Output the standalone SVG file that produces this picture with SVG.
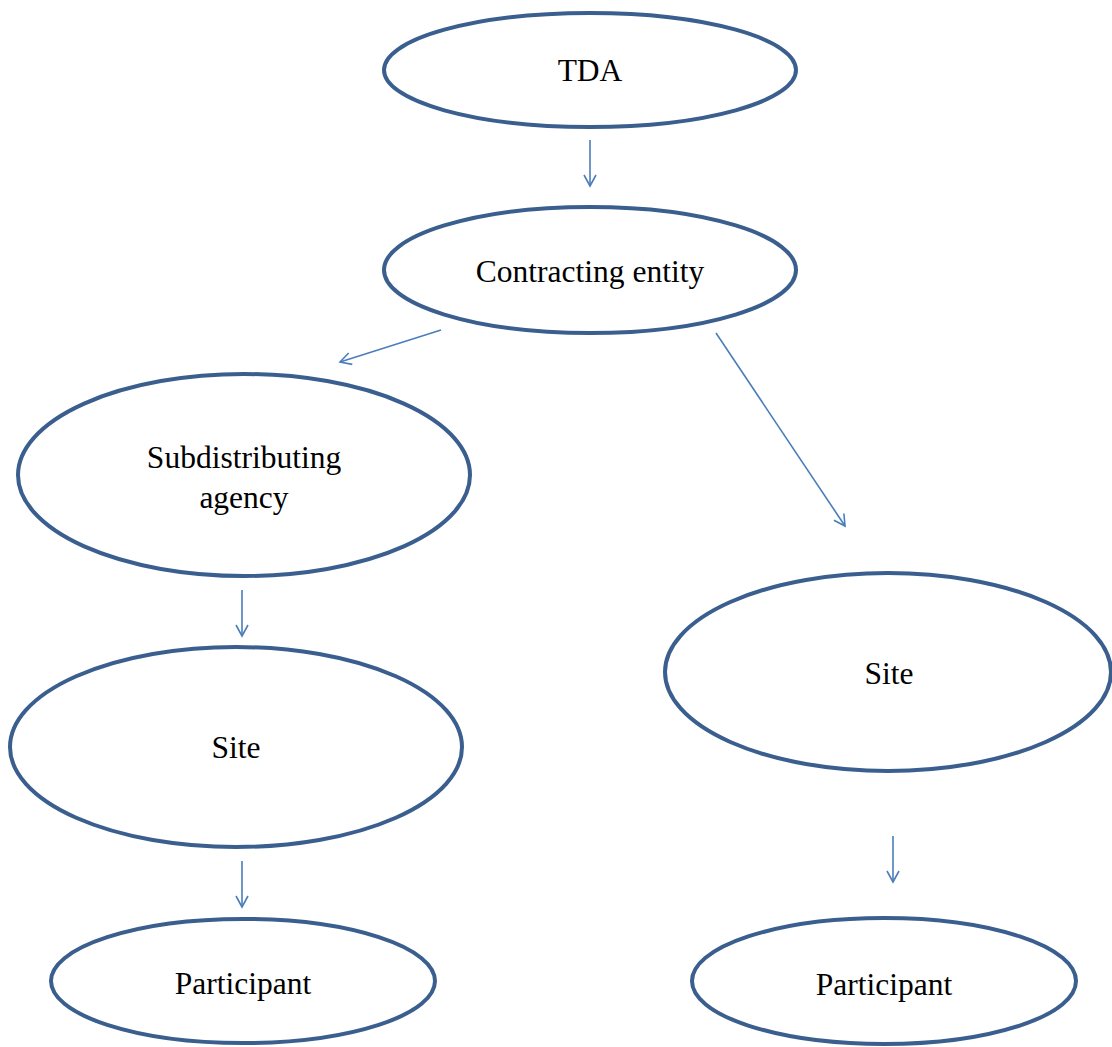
<svg xmlns="http://www.w3.org/2000/svg" width="1112" height="1047" viewBox="0 0 1112 1047">
<style>
.node ellipse{fill:#fff;stroke:#3a5f8f;stroke-width:4}
.node text{font-family:"Liberation Serif","DejaVu Serif",serif;font-size:31.5px;fill:#000;text-anchor:middle}
#connectors line{stroke:#4a7ebb;stroke-width:1.6;fill:none;marker-end:url(#arr)}
</style>
<defs>
<marker id="arr" markerUnits="userSpaceOnUse" markerWidth="14" markerHeight="14" viewBox="0 0 14 14" refX="12" refY="7" orient="auto">
<path d="M1,1 L12,7 L1,13" fill="none" stroke="#4a7ebb" stroke-width="1.6"/>
</marker>
</defs>
<rect width="1112" height="1047" fill="#fff"/>
<g id="connectors">
<line x1="590" y1="140" x2="590" y2="186"/>
<line x1="441" y1="330" x2="340" y2="362"/>
<line x1="716" y1="333" x2="845" y2="526"/>
<line x1="242" y1="590" x2="242" y2="636"/>
<line x1="242" y1="861" x2="242" y2="907"/>
<line x1="893" y1="836" x2="893" y2="882"/>
</g>
<g id="tda" class="node"><ellipse cx="590" cy="70" rx="206" ry="57"/><text x="590" y="81">TDA</text></g>
<g id="contracting" class="node"><ellipse cx="590" cy="270" rx="206" ry="63"/><text x="590" y="282">Contracting entity</text></g>
<g id="subdistributing" class="node"><ellipse cx="244" cy="475" rx="226" ry="101"/><text x="244" y="468">Subdistributing</text><text x="244" y="508">agency</text></g>
<g id="site-left" class="node"><ellipse cx="236" cy="747" rx="226" ry="100"/><text x="236" y="758">Site</text></g>
<g id="site-right" class="node"><ellipse cx="888" cy="672" rx="223" ry="99"/><text x="889" y="684">Site</text></g>
<g id="participant-left" class="node"><ellipse cx="243" cy="981" rx="192" ry="62"/><text x="243" y="994">Participant</text></g>
<g id="participant-right" class="node"><ellipse cx="884" cy="981" rx="192" ry="63"/><text x="884" y="995">Participant</text></g>
</svg>
